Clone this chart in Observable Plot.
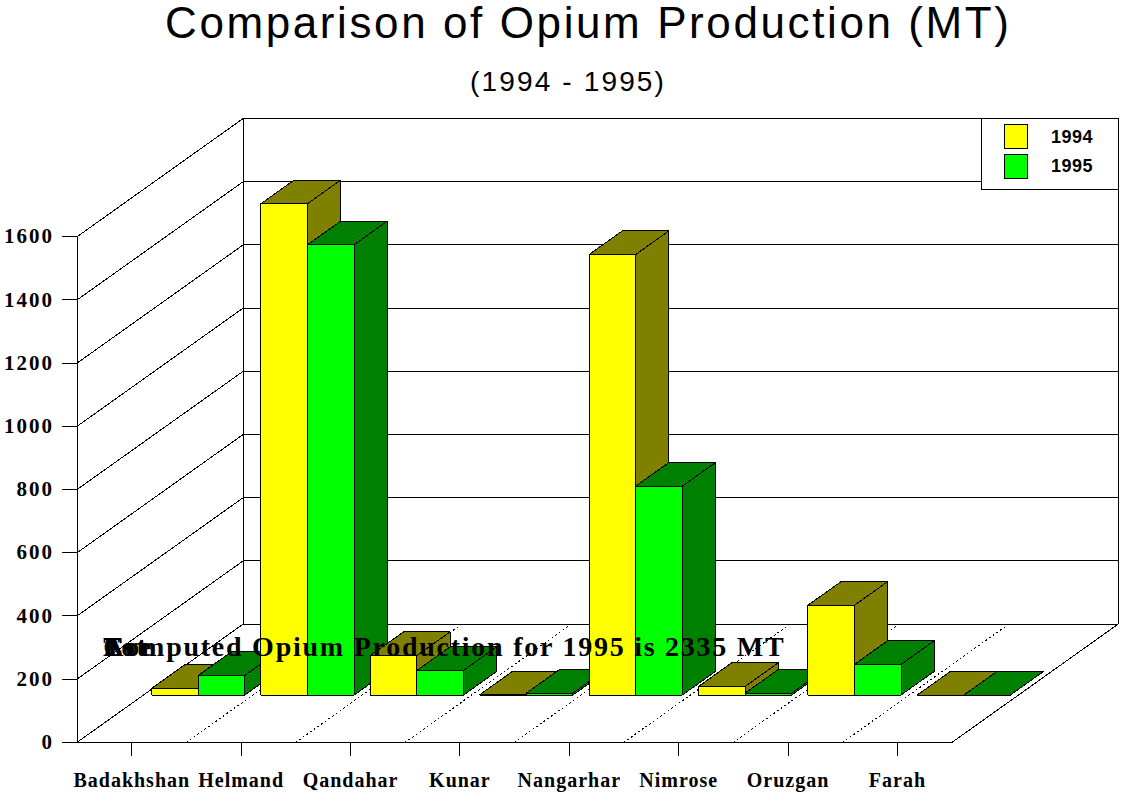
<!DOCTYPE html>
<html>
<head>
<meta charset="utf-8">
<script src="https://cdn.jsdelivr.net/npm/d3@7"></script>
<script src="https://cdn.jsdelivr.net/npm/@observablehq/plot@0.6"></script>
<style>
html,body{margin:0;padding:0;background:#fff;overflow:hidden}
#wrap{position:relative;width:1123px;height:795px}
#head{height:100px;width:1123px;position:relative;font-family:"Liberation Sans",sans-serif;color:#000}
#t1{position:absolute;left:165px;top:0;font-size:44px;line-height:46px;letter-spacing:2.6px;white-space:nowrap}
#t2{position:absolute;left:470px;top:66px;font-size:28px;letter-spacing:2.15px;white-space:nowrap}
#legend{position:absolute;left:981px;top:118px;width:136px;height:70px;background:#fff;border:1px solid #000;font:bold 18px "Liberation Sans",sans-serif}
#legend i{position:absolute;left:22px;width:22px;height:23px;border:1px solid #000}
#legend span{position:absolute;left:69px;letter-spacing:.5px}
svg{shape-rendering:crispEdges}
svg text{letter-spacing:1px}
svg [aria-label="y-axis tick label"] text{letter-spacing:2px}
svg .note text{letter-spacing:1.75px}
</style>
</head>
<body>
<div id="wrap">
<div id="head"><div id="t1"></div><div id="t2"></div></div>
<div id="chart"></div>
<div id="legend"></div>
</div>
<script>
const title = "Comparison of Opium Production (MT)";
const subtitle = "(1994 - 1995)";
const note = "Computed Opium Production for 1995 is 2335 MT";
const overprint = ["Est", "Tot", "Are"];
const categories = ["Badakhshan","Helmand","Qandahar","Kunar","Nangarhar","Nimrose","Oruzgan","Farah"];
const v1994 = [21,1555,125,1,1394,27,284,0];
const v1995 = [62,1425,78,6,661,6,97,0];
const series = [
  {name:"1994", values:v1994, front:"#ffff00", shade:"#808000"},
  {name:"1995", values:v1995, front:"#00ff00", shade:"#008000"}
];
const yTicks = [0,200,400,600,800,1000,1200,1400,1600];

// oblique projection of the chart's depth axis, in data units
const depthX = 1.518, depthY = 374;
const px = (x,d) => x + d*depthX;
const py = (v,d) => v + d*depthY;
const barGap = 0.074, barW = 0.426, dFront = 0.4, dBack = 0.6;

// frame
const wall = [];
let id = 0;
const seg = (pts) => { id++; pts.forEach(p => wall.push({id, x:p[0], y:p[1]})); };
yTicks.forEach(v => seg([[0,v],[px(0,1),py(v,1)],[px(8,1),py(v,1)]]));
seg([[0,0],[0,1600]]);
seg([[px(0,1),py(0,1)],[px(0,1),py(1600,1)]]);
seg([[px(8,1),py(0,1)],[px(8,1),py(1600,1)]]);
seg([[0,0],[8,0],[px(8,1),py(0,1)]]);

const dots = [];
d3.range(1,8).forEach(i => { dots.push({id:i,x:px(i,0),y:0}); dots.push({id:i,x:px(i,1),y:py(0,1)}); });

// bars, painted left to right
const faces = [];
let fid = 0;
const face = (fill, pts) => { fid++; [...pts, pts[0]].forEach(p => faces.push({id:fid, fill, x:p[0], y:p[1]})); };
categories.forEach((c,i) => series.forEach((s,k) => {
  const x0 = i + barGap + k*barW, x1 = x0 + barW, v = s.values[i];
  const P = (x,val,d) => [px(x,d), py(val,d)];
  face(s.shade, [P(x0,v,dFront),P(x1,v,dFront),P(x1,v,dBack),P(x0,v,dBack)]);
  face(s.shade, [P(x1,0,dFront),P(x1,v,dFront),P(x1,v,dBack),P(x1,0,dBack)]);
  face(s.front, [P(x0,0,dFront),P(x1,0,dFront),P(x1,v,dFront),P(x0,v,dFront)]);
}));

const chart = Plot.plot({
  width:1123, height:695,
  marginLeft:76.6, marginRight:171.4, marginTop:136.2, marginBottom:53.2,
  x:{domain:[0,8]},
  y:{domain:[0,1600]},
  color:{type:"identity"},
  marks:[
    Plot.line(dots,{x:"x",y:"y",z:"id",stroke:"#000",strokeWidth:1,strokeDasharray:"1,3.5"}),
    Plot.line(wall,{x:"x",y:"y",z:"id",stroke:"#000",strokeWidth:1}),
    Plot.line(faces,{x:"x",y:"y",z:"id",fill:"fill",stroke:"#000",strokeWidth:1}),
    Plot.axisY({ticks:yTicks,tickSize:15,tickPadding:8,label:null,stroke:"#000",
      tickFormat:d=>String(d),fontFamily:"Liberation Serif",fontWeight:"bold",fontSize:21}),
    Plot.axisX({ticks:categories.map((c,i)=>i+0.5),tickSize:14,tickPadding:16,label:null,stroke:"#000",
      tickFormat:d=>categories[Math.round(d-0.5)],fontFamily:"Liberation Serif",fontWeight:"bold",fontSize:20}),
    Plot.text([...overprint,note],{x:()=>0.24,y:()=>301,text:d=>d,textAnchor:"start",className:"note",
      fontFamily:"Liberation Serif",fontWeight:"bold",fontSize:28,fill:"#000"})
  ]
});
document.getElementById("chart").appendChild(chart);
document.getElementById("t1").textContent = title;
document.getElementById("t2").textContent = subtitle;
const lg = document.getElementById("legend");
series.forEach((s,k)=>{
  const sw=document.createElement("i"); sw.style.top=(5+k*30)+"px"; sw.style.background=s.front; lg.appendChild(sw);
  const t=document.createElement("span"); t.textContent=s.name; t.style.top=(8+k*29)+"px"; lg.appendChild(t);
});
</script>
</body>
</html>
